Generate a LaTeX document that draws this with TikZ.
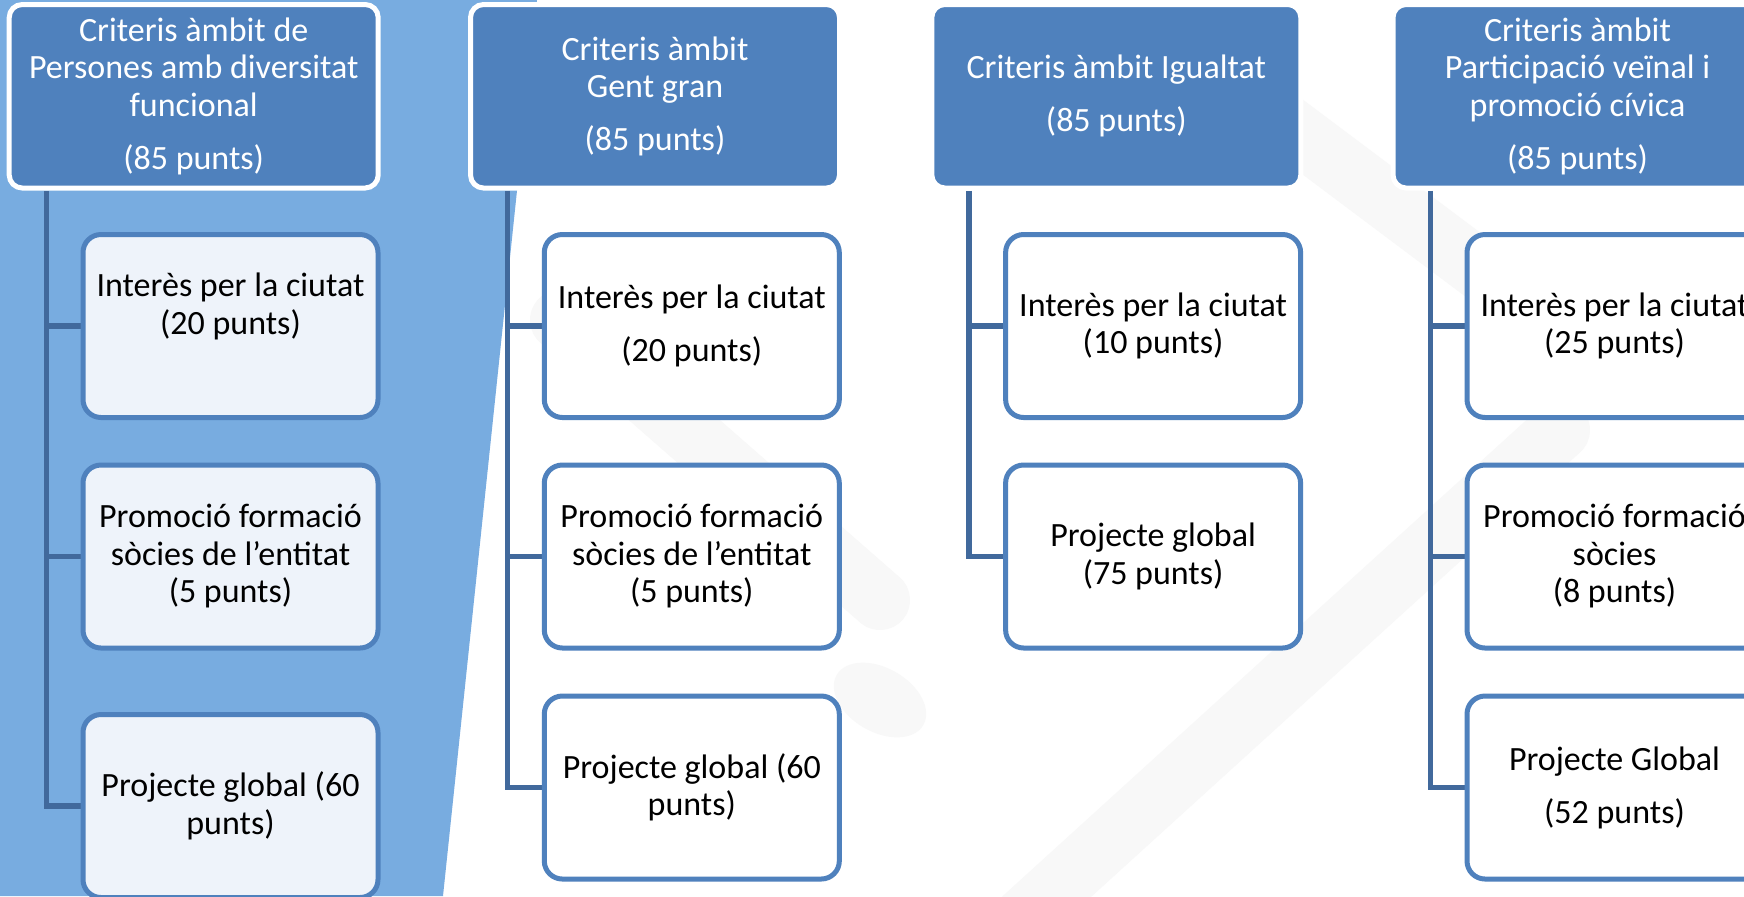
\documentclass[tikz,border=0pt]{standalone}
\usepackage{fontspec}
\setmainfont{Carlito}
\pgfdeclarelayer{bglayer}
\pgfdeclarelayer{connlayer}
\pgfsetlayers{bglayer,connlayer,main}
\definecolor{hblue}{HTML}{4F81BD}
\definecolor{cblue}{HTML}{4F81BD}
\definecolor{lineblue}{HTML}{41699C}
\definecolor{bgblue}{HTML}{78ACE0}
\definecolor{paleblue}{HTML}{EEF3FA}
\definecolor{wm}{HTML}{F8F8F8}
\begin{document}
\begin{tikzpicture}[x=0.5pt,y=-0.5pt,
  txt/.style={font=\fontsize{17}{18.75}\selectfont, align=center, inner sep=0pt},
  hdr/.style={txt, rectangle, rounded corners=6.5pt, fill=hblue, draw=white, line width=2.5pt, minimum width=184.5pt, minimum height=91.75pt, text=white},
  child/.style={txt, rectangle, rounded corners=9pt, draw=cblue, line width=2.5pt, fill=white, minimum width=147.5pt, minimum height=91.5pt, text=black},
  conn/.style={draw=lineblue, line width=2.75pt, line join=miter},
  wmk/.style={draw=wm, line width=30pt, line cap=round},
]
\useasboundingbox (0,0) rectangle (1744,896);

% headers
\node[hdr] (h1) at (193.7,96.25) {Criteris àmbit de\\Persones amb diversitat\\funcional\\[7.75pt](85 punts)};
\node[hdr] (h2) at (655,96.25) {Criteris àmbit\\Gent gran\\[7.75pt](85 punts)};
\node[hdr] (h3) at (1116.3,96.25) {Criteris àmbit Igualtat\\[7.75pt](85 punts)};
\node[hdr] (h4) at (1577.5,96.25) {Criteris àmbit\\Participació veïnal i\\promoció cívica\\[7.75pt](85 punts)};

% children
\node[child, fill=paleblue] (c11) at (230.5,326) {};
\node[txt] (t11) at (230.5,306.5) {Interès per la ciutat\\(20 punts)};
\node[child, fill=paleblue] (c12) at (230.5,556.5) {Promoció formació\\sòcies de l’entitat\\(5 punts)};
\node[child, fill=paleblue] (c13) at (230.5,806) {Projecte global (60\\punts)};
\node[child] (c21) at (691.8,326) {Interès per la ciutat\\[7.75pt](20 punts)};
\node[child] (c22) at (691.8,556.5) {Promoció formació\\sòcies de l’entitat\\(5 punts)};
\node[child] (c23) at (691.8,787.5) {Projecte global (60\\punts)};
\node[child] (c31) at (1153.1,326) {Interès per la ciutat\\(10 punts)};
\node[child] (c32) at (1153.1,556.5) {Projecte global\\(75 punts)};
\node[child] (c41) at (1614.5,326) {Interès per la ciutat\\(25 punts)};
\node[child] (c42) at (1614.5,556.5) {Promoció formació\\sòcies\\(8 punts)};
\node[child] (c43) at (1614.5,787.5) {Projecte Global\\[7.75pt](52 punts)};

\coordinate (l1) at (46.7,0);
\coordinate (l2) at (507.5,0);
\coordinate (l3) at (969,0);
\coordinate (l4) at (1430.3,0);

\begin{pgfonlayer}{bglayer}
  \fill[white] (0,0) rectangle (1744,896);
  \draw[wmk] (1010,930) -- (1560,430);
  \draw[wmk] (1240,90) -- (1520,300);
  \draw[wmk] (560,320) -- (880,600);
  \fill[wm, rotate around={-30:(880,700)}] (880,700) ellipse (50 and 32);
  \fill[bgblue] (0,0) -- (537,0) -- (443,896) -- (0,896) -- cycle;
\end{pgfonlayer}

\begin{pgfonlayer}{connlayer}
  \draw[conn] (h1.south -| l1) |- (c13.west);
  \draw[conn] (l1 |- c11.west) -- (c11.west);
  \draw[conn] (l1 |- c12.west) -- (c12.west);
  \draw[conn] (h2.south -| l2) |- (c23.west);
  \draw[conn] (l2 |- c21.west) -- (c21.west);
  \draw[conn] (l2 |- c22.west) -- (c22.west);
  \draw[conn] (h3.south -| l3) |- (c32.west);
  \draw[conn] (l3 |- c31.west) -- (c31.west);
  \draw[conn] (h4.south -| l4) |- (c43.west);
  \draw[conn] (l4 |- c41.west) -- (c41.west);
  \draw[conn] (l4 |- c42.west) -- (c42.west);
\end{pgfonlayer}
\end{tikzpicture}
\end{document}
